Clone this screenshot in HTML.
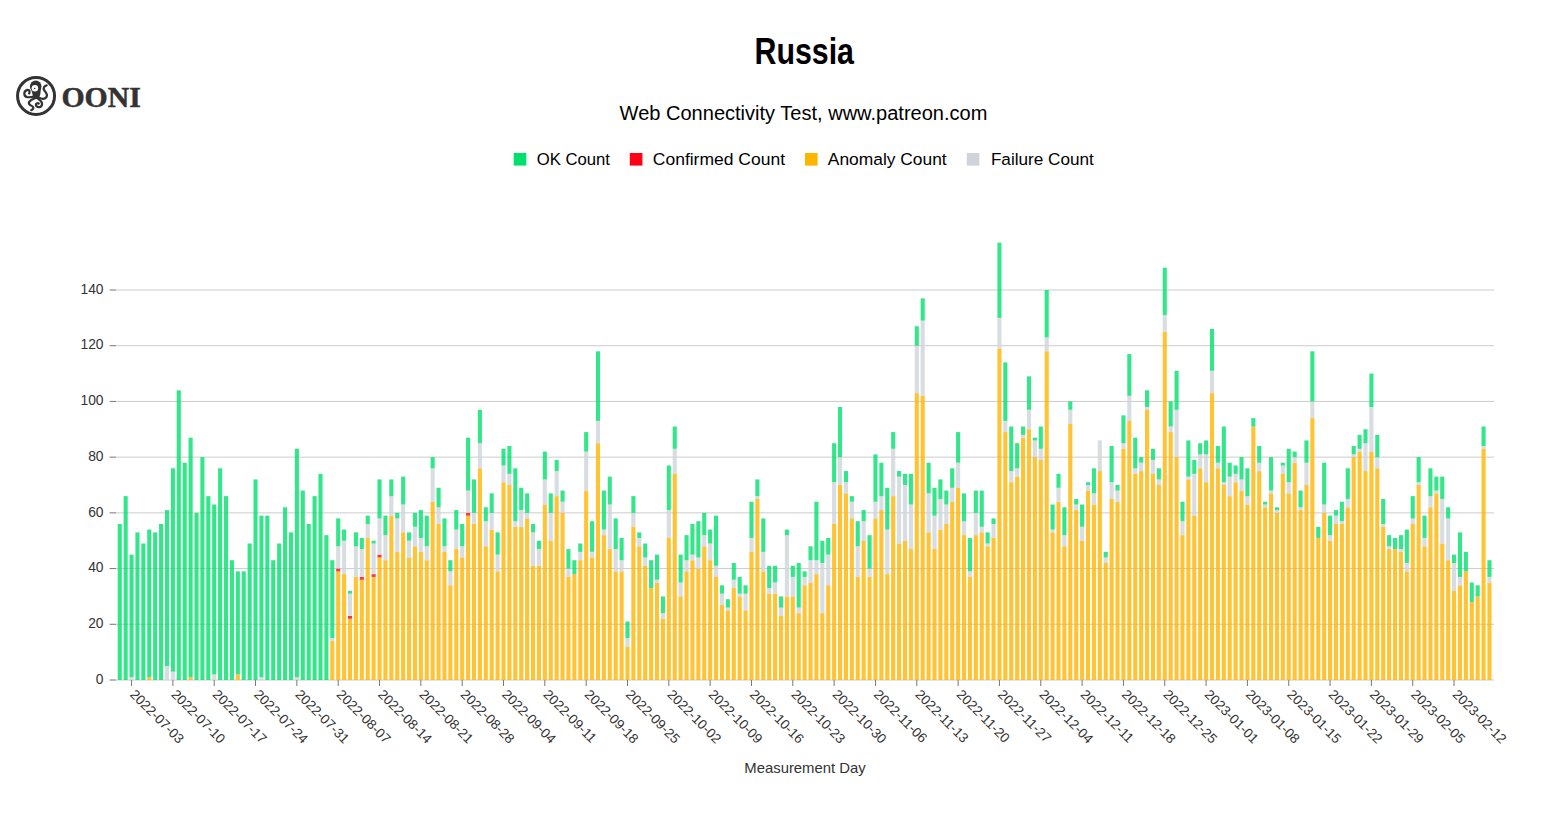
<!DOCTYPE html><html><head><meta charset="utf-8"><title>Russia - Web Connectivity Test</title>
<style>html,body{margin:0;padding:0;background:#fff;width:1543px;height:823px;overflow:hidden}svg{display:block}text{font-family:"Liberation Sans",sans-serif}</style></head><body>
<svg width="1543" height="823" viewBox="0 0 1543 823">
<g fill="#333">
<circle cx="36.05" cy="95.9" r="18.5" fill="none" stroke="#333" stroke-width="3.0"/>
<circle cx="35.7" cy="86.4" r="5.8"/>
<path d="M31.2 88 L40.6 88 L40.8 89.6 Q40.6 94.5 39.6 96.6 Q38.2 99.2 35.8 99.2 Q33.6 99 33 96.8 Q32.6 94.2 31.4 90 Z"/>
<circle cx="34.9" cy="88.3" r="3.25" fill="#fff"/>
<circle cx="34.7" cy="88.4" r="0.7"/>
<g fill="none" stroke="#333" stroke-width="2.2" stroke-linecap="round">
<path d="M33.8 96.6 Q29.5 97.6 27.2 97.1 Q24.4 96.4 24.3 93.6 Q24.4 90.6 27.2 89.9 Q29.6 89.9 29.6 92 Q29.5 93 29.1 93.5"/>
<path d="M39.2 97.8 Q42.3 99.4 45 98.4 Q47.4 96.8 46.9 94.6 Q46 92.4 44.4 90.6 Q43.1 88.4 44.2 86.8 Q45.2 85.6 46.7 85.3"/>
<path d="M34.4 98.6 Q30.4 100.2 29.1 102 Q28.3 104 30.5 105.3 Q33.2 106.2 33.4 107.8 Q33.2 109.4 31.2 110.2"/>
<path d="M37.6 98.4 Q40.8 100.4 41.9 102.8 Q42.6 105.8 40.3 107 Q38 107.6 36.4 106.2 Q35.4 104.4 36.8 103.4 Q38 102.9 38.8 103.6"/>
</g></g>
<text x="61.4" y="106.8" font-family="Liberation Serif" font-weight="bold" font-size="30" fill="#333" stroke="#333" stroke-width="0.5" textLength="79.5" lengthAdjust="spacingAndGlyphs" style="font-family:'Liberation Serif',serif">OONI</text>
<text x="754.5" y="63.9" font-weight="bold" font-size="37" fill="#000" textLength="99.5" lengthAdjust="spacingAndGlyphs">Russia</text>
<text x="619.6" y="119.8" font-size="19.5" fill="#000" textLength="367.8" lengthAdjust="spacingAndGlyphs">Web Connectivity Test, www.patreon.com</text>
<rect x="513.7" y="153" width="12.6" height="12.6" fill="#00e06c"/>
<text x="536.7" y="165.2" font-size="16.8" fill="#000" textLength="73.3" lengthAdjust="spacingAndGlyphs">OK Count</text>
<rect x="629.8" y="153" width="12.6" height="12.6" fill="#ff0016"/>
<text x="652.8" y="165.2" font-size="16.8" fill="#000" textLength="132.2" lengthAdjust="spacingAndGlyphs">Confirmed Count</text>
<rect x="805.0" y="153" width="12.6" height="12.6" fill="#ffb400"/>
<text x="827.8" y="165.2" font-size="16.8" fill="#000" textLength="118.9" lengthAdjust="spacingAndGlyphs">Anomaly Count</text>
<rect x="966.8" y="153" width="12.6" height="12.6" fill="#ced4da"/>
<text x="990.9" y="165.2" font-size="16.8" fill="#000" textLength="102.9" lengthAdjust="spacingAndGlyphs">Failure Count</text>
<g stroke="#cccccc" stroke-width="1">
<line x1="116.0" x2="1494.0" y1="680.00" y2="680.00"/>
<line x1="116.0" x2="1494.0" y1="624.29" y2="624.29"/>
<line x1="116.0" x2="1494.0" y1="568.57" y2="568.57"/>
<line x1="116.0" x2="1494.0" y1="512.86" y2="512.86"/>
<line x1="116.0" x2="1494.0" y1="457.14" y2="457.14"/>
<line x1="116.0" x2="1494.0" y1="401.43" y2="401.43"/>
<line x1="116.0" x2="1494.0" y1="345.72" y2="345.72"/>
<line x1="116.0" x2="1494.0" y1="290.00" y2="290.00"/>
</g>
<g fill-opacity="0.80">
<rect x="117.70" y="524.00" width="4.10" height="156.00" fill="#00e06c"/>
<rect x="123.60" y="496.14" width="4.10" height="183.86" fill="#00e06c"/>
<rect x="129.51" y="677.21" width="4.10" height="2.79" fill="#ced4da"/>
<rect x="129.51" y="554.64" width="4.10" height="122.57" fill="#00e06c"/>
<rect x="135.41" y="532.36" width="4.10" height="147.64" fill="#00e06c"/>
<rect x="141.32" y="543.50" width="4.10" height="136.50" fill="#00e06c"/>
<rect x="147.22" y="677.21" width="4.10" height="2.79" fill="#ffb400"/>
<rect x="147.22" y="529.57" width="4.10" height="147.64" fill="#00e06c"/>
<rect x="153.12" y="532.36" width="4.10" height="147.64" fill="#00e06c"/>
<rect x="159.03" y="524.00" width="4.10" height="156.00" fill="#00e06c"/>
<rect x="164.93" y="666.07" width="4.10" height="13.93" fill="#ced4da"/>
<rect x="164.93" y="510.07" width="4.10" height="156.00" fill="#00e06c"/>
<rect x="170.84" y="671.64" width="4.10" height="8.36" fill="#ced4da"/>
<rect x="170.84" y="468.29" width="4.10" height="203.36" fill="#00e06c"/>
<rect x="176.74" y="390.29" width="4.10" height="289.71" fill="#00e06c"/>
<rect x="182.64" y="462.72" width="4.10" height="217.28" fill="#00e06c"/>
<rect x="188.55" y="677.21" width="4.10" height="2.79" fill="#ffb400"/>
<rect x="188.55" y="437.64" width="4.10" height="239.57" fill="#00e06c"/>
<rect x="194.45" y="512.86" width="4.10" height="167.14" fill="#00e06c"/>
<rect x="200.36" y="457.14" width="4.10" height="222.86" fill="#00e06c"/>
<rect x="206.26" y="496.14" width="4.10" height="183.86" fill="#00e06c"/>
<rect x="212.16" y="674.43" width="4.10" height="5.57" fill="#ced4da"/>
<rect x="212.16" y="504.50" width="4.10" height="169.93" fill="#00e06c"/>
<rect x="218.07" y="468.29" width="4.10" height="211.71" fill="#00e06c"/>
<rect x="223.97" y="496.14" width="4.10" height="183.86" fill="#00e06c"/>
<rect x="229.88" y="560.21" width="4.10" height="119.79" fill="#00e06c"/>
<rect x="235.78" y="674.43" width="4.10" height="5.57" fill="#ffb400"/>
<rect x="235.78" y="571.36" width="4.10" height="103.07" fill="#00e06c"/>
<rect x="241.68" y="571.36" width="4.10" height="108.64" fill="#00e06c"/>
<rect x="247.59" y="543.50" width="4.10" height="136.50" fill="#00e06c"/>
<rect x="253.49" y="479.43" width="4.10" height="200.57" fill="#00e06c"/>
<rect x="259.40" y="677.21" width="4.10" height="2.79" fill="#ced4da"/>
<rect x="259.40" y="515.64" width="4.10" height="161.57" fill="#00e06c"/>
<rect x="265.30" y="515.64" width="4.10" height="164.36" fill="#00e06c"/>
<rect x="271.20" y="560.21" width="4.10" height="119.79" fill="#00e06c"/>
<rect x="277.11" y="543.50" width="4.10" height="136.50" fill="#00e06c"/>
<rect x="283.01" y="507.29" width="4.10" height="172.71" fill="#00e06c"/>
<rect x="288.92" y="532.36" width="4.10" height="147.64" fill="#00e06c"/>
<rect x="294.82" y="677.21" width="4.10" height="2.79" fill="#ced4da"/>
<rect x="294.82" y="448.79" width="4.10" height="228.43" fill="#00e06c"/>
<rect x="300.72" y="490.57" width="4.10" height="189.43" fill="#00e06c"/>
<rect x="306.63" y="524.00" width="4.10" height="156.00" fill="#00e06c"/>
<rect x="312.53" y="496.14" width="4.10" height="183.86" fill="#00e06c"/>
<rect x="318.44" y="473.86" width="4.10" height="206.14" fill="#00e06c"/>
<rect x="324.34" y="535.14" width="4.10" height="144.86" fill="#00e06c"/>
<rect x="330.24" y="641.00" width="4.10" height="39.00" fill="#ffb400"/>
<rect x="330.24" y="638.21" width="4.10" height="2.79" fill="#ced4da"/>
<rect x="330.24" y="560.21" width="4.10" height="78.00" fill="#00e06c"/>
<rect x="336.15" y="571.36" width="4.10" height="108.64" fill="#ffb400"/>
<rect x="336.15" y="568.57" width="4.10" height="2.79" fill="#ff0016"/>
<rect x="336.15" y="546.29" width="4.10" height="22.29" fill="#ced4da"/>
<rect x="336.15" y="518.43" width="4.10" height="27.86" fill="#00e06c"/>
<rect x="342.05" y="574.14" width="4.10" height="105.86" fill="#ffb400"/>
<rect x="342.05" y="540.72" width="4.10" height="33.43" fill="#ced4da"/>
<rect x="342.05" y="529.57" width="4.10" height="11.14" fill="#00e06c"/>
<rect x="347.96" y="618.71" width="4.10" height="61.29" fill="#ffb400"/>
<rect x="347.96" y="615.93" width="4.10" height="2.79" fill="#ff0016"/>
<rect x="347.96" y="593.64" width="4.10" height="22.29" fill="#ced4da"/>
<rect x="347.96" y="590.86" width="4.10" height="2.79" fill="#00e06c"/>
<rect x="353.86" y="576.93" width="4.10" height="103.07" fill="#ffb400"/>
<rect x="353.86" y="546.29" width="4.10" height="30.64" fill="#ced4da"/>
<rect x="353.86" y="532.36" width="4.10" height="13.93" fill="#00e06c"/>
<rect x="359.76" y="579.71" width="4.10" height="100.29" fill="#ffb400"/>
<rect x="359.76" y="576.93" width="4.10" height="2.79" fill="#ff0016"/>
<rect x="359.76" y="549.07" width="4.10" height="27.86" fill="#ced4da"/>
<rect x="359.76" y="537.93" width="4.10" height="11.14" fill="#00e06c"/>
<rect x="365.67" y="537.93" width="4.10" height="142.07" fill="#ffb400"/>
<rect x="365.67" y="524.00" width="4.10" height="13.93" fill="#ced4da"/>
<rect x="365.67" y="515.64" width="4.10" height="8.36" fill="#00e06c"/>
<rect x="371.57" y="576.93" width="4.10" height="103.07" fill="#ffb400"/>
<rect x="371.57" y="574.14" width="4.10" height="2.79" fill="#ff0016"/>
<rect x="371.57" y="543.50" width="4.10" height="30.64" fill="#ced4da"/>
<rect x="371.57" y="540.72" width="4.10" height="2.79" fill="#00e06c"/>
<rect x="377.48" y="557.43" width="4.10" height="122.57" fill="#ffb400"/>
<rect x="377.48" y="554.64" width="4.10" height="2.79" fill="#ff0016"/>
<rect x="377.48" y="518.43" width="4.10" height="36.21" fill="#ced4da"/>
<rect x="377.48" y="479.43" width="4.10" height="39.00" fill="#00e06c"/>
<rect x="383.38" y="560.21" width="4.10" height="119.79" fill="#ffb400"/>
<rect x="383.38" y="535.14" width="4.10" height="25.07" fill="#ced4da"/>
<rect x="383.38" y="515.64" width="4.10" height="19.50" fill="#00e06c"/>
<rect x="389.28" y="515.64" width="4.10" height="164.36" fill="#ffb400"/>
<rect x="389.28" y="496.14" width="4.10" height="19.50" fill="#ced4da"/>
<rect x="389.28" y="479.43" width="4.10" height="16.71" fill="#00e06c"/>
<rect x="395.19" y="551.86" width="4.10" height="128.14" fill="#ffb400"/>
<rect x="395.19" y="518.43" width="4.10" height="33.43" fill="#ced4da"/>
<rect x="395.19" y="512.86" width="4.10" height="5.57" fill="#00e06c"/>
<rect x="401.09" y="532.36" width="4.10" height="147.64" fill="#ffb400"/>
<rect x="401.09" y="504.50" width="4.10" height="27.86" fill="#ced4da"/>
<rect x="401.09" y="476.64" width="4.10" height="27.86" fill="#00e06c"/>
<rect x="407.00" y="557.43" width="4.10" height="122.57" fill="#ffb400"/>
<rect x="407.00" y="540.72" width="4.10" height="16.71" fill="#ced4da"/>
<rect x="407.00" y="532.36" width="4.10" height="8.36" fill="#00e06c"/>
<rect x="412.90" y="546.29" width="4.10" height="133.71" fill="#ffb400"/>
<rect x="412.90" y="526.79" width="4.10" height="19.50" fill="#ced4da"/>
<rect x="412.90" y="512.86" width="4.10" height="13.93" fill="#00e06c"/>
<rect x="418.80" y="551.86" width="4.10" height="128.14" fill="#ffb400"/>
<rect x="418.80" y="537.93" width="4.10" height="13.93" fill="#ced4da"/>
<rect x="418.80" y="510.07" width="4.10" height="27.86" fill="#00e06c"/>
<rect x="424.71" y="560.21" width="4.10" height="119.79" fill="#ffb400"/>
<rect x="424.71" y="546.29" width="4.10" height="13.93" fill="#ced4da"/>
<rect x="424.71" y="515.64" width="4.10" height="30.64" fill="#00e06c"/>
<rect x="430.61" y="501.72" width="4.10" height="178.28" fill="#ffb400"/>
<rect x="430.61" y="468.29" width="4.10" height="33.43" fill="#ced4da"/>
<rect x="430.61" y="457.14" width="4.10" height="11.14" fill="#00e06c"/>
<rect x="436.52" y="524.00" width="4.10" height="156.00" fill="#ffb400"/>
<rect x="436.52" y="507.29" width="4.10" height="16.71" fill="#ced4da"/>
<rect x="436.52" y="487.79" width="4.10" height="19.50" fill="#00e06c"/>
<rect x="442.42" y="551.86" width="4.10" height="128.14" fill="#ffb400"/>
<rect x="442.42" y="546.29" width="4.10" height="5.57" fill="#ced4da"/>
<rect x="442.42" y="518.43" width="4.10" height="27.86" fill="#00e06c"/>
<rect x="448.32" y="585.29" width="4.10" height="94.71" fill="#ffb400"/>
<rect x="448.32" y="571.36" width="4.10" height="13.93" fill="#ced4da"/>
<rect x="448.32" y="560.21" width="4.10" height="11.14" fill="#00e06c"/>
<rect x="454.23" y="549.07" width="4.10" height="130.93" fill="#ffb400"/>
<rect x="454.23" y="529.57" width="4.10" height="19.50" fill="#ced4da"/>
<rect x="454.23" y="510.07" width="4.10" height="19.50" fill="#00e06c"/>
<rect x="460.13" y="557.43" width="4.10" height="122.57" fill="#ffb400"/>
<rect x="460.13" y="546.29" width="4.10" height="11.14" fill="#ced4da"/>
<rect x="460.13" y="524.00" width="4.10" height="22.29" fill="#00e06c"/>
<rect x="466.04" y="515.64" width="4.10" height="164.36" fill="#ffb400"/>
<rect x="466.04" y="512.86" width="4.10" height="2.79" fill="#ff0016"/>
<rect x="466.04" y="490.57" width="4.10" height="22.29" fill="#ced4da"/>
<rect x="466.04" y="437.64" width="4.10" height="52.93" fill="#00e06c"/>
<rect x="471.94" y="524.00" width="4.10" height="156.00" fill="#ffb400"/>
<rect x="471.94" y="512.86" width="4.10" height="11.14" fill="#ced4da"/>
<rect x="471.94" y="479.43" width="4.10" height="33.43" fill="#00e06c"/>
<rect x="477.84" y="468.29" width="4.10" height="211.71" fill="#ffb400"/>
<rect x="477.84" y="443.22" width="4.10" height="25.07" fill="#ced4da"/>
<rect x="477.84" y="409.79" width="4.10" height="33.43" fill="#00e06c"/>
<rect x="483.75" y="546.29" width="4.10" height="133.71" fill="#ffb400"/>
<rect x="483.75" y="521.22" width="4.10" height="25.07" fill="#ced4da"/>
<rect x="483.75" y="507.29" width="4.10" height="13.93" fill="#00e06c"/>
<rect x="489.65" y="529.57" width="4.10" height="150.43" fill="#ffb400"/>
<rect x="489.65" y="512.86" width="4.10" height="16.71" fill="#ced4da"/>
<rect x="489.65" y="493.36" width="4.10" height="19.50" fill="#00e06c"/>
<rect x="495.56" y="571.36" width="4.10" height="108.64" fill="#ffb400"/>
<rect x="495.56" y="554.64" width="4.10" height="16.71" fill="#ced4da"/>
<rect x="495.56" y="532.36" width="4.10" height="22.29" fill="#00e06c"/>
<rect x="501.46" y="482.22" width="4.10" height="197.78" fill="#ffb400"/>
<rect x="501.46" y="465.50" width="4.10" height="16.71" fill="#ced4da"/>
<rect x="501.46" y="448.79" width="4.10" height="16.71" fill="#00e06c"/>
<rect x="507.36" y="485.00" width="4.10" height="195.00" fill="#ffb400"/>
<rect x="507.36" y="473.86" width="4.10" height="11.14" fill="#ced4da"/>
<rect x="507.36" y="446.00" width="4.10" height="27.86" fill="#00e06c"/>
<rect x="513.27" y="526.79" width="4.10" height="153.21" fill="#ffb400"/>
<rect x="513.27" y="521.22" width="4.10" height="5.57" fill="#ced4da"/>
<rect x="513.27" y="468.29" width="4.10" height="52.93" fill="#00e06c"/>
<rect x="519.17" y="526.79" width="4.10" height="153.21" fill="#ffb400"/>
<rect x="519.17" y="510.07" width="4.10" height="16.71" fill="#ced4da"/>
<rect x="519.17" y="487.79" width="4.10" height="22.29" fill="#00e06c"/>
<rect x="525.08" y="518.43" width="4.10" height="161.57" fill="#ffb400"/>
<rect x="525.08" y="512.86" width="4.10" height="5.57" fill="#ced4da"/>
<rect x="525.08" y="493.36" width="4.10" height="19.50" fill="#00e06c"/>
<rect x="530.98" y="565.79" width="4.10" height="114.21" fill="#ffb400"/>
<rect x="530.98" y="532.36" width="4.10" height="33.43" fill="#ced4da"/>
<rect x="530.98" y="524.00" width="4.10" height="8.36" fill="#00e06c"/>
<rect x="536.88" y="565.79" width="4.10" height="114.21" fill="#ffb400"/>
<rect x="536.88" y="549.07" width="4.10" height="16.71" fill="#ced4da"/>
<rect x="536.88" y="540.72" width="4.10" height="8.36" fill="#00e06c"/>
<rect x="542.79" y="504.50" width="4.10" height="175.50" fill="#ffb400"/>
<rect x="542.79" y="479.43" width="4.10" height="25.07" fill="#ced4da"/>
<rect x="542.79" y="451.57" width="4.10" height="27.86" fill="#00e06c"/>
<rect x="548.69" y="540.72" width="4.10" height="139.28" fill="#ffb400"/>
<rect x="548.69" y="512.86" width="4.10" height="27.86" fill="#ced4da"/>
<rect x="548.69" y="493.36" width="4.10" height="19.50" fill="#00e06c"/>
<rect x="554.60" y="496.14" width="4.10" height="183.86" fill="#ffb400"/>
<rect x="554.60" y="471.07" width="4.10" height="25.07" fill="#ced4da"/>
<rect x="554.60" y="459.93" width="4.10" height="11.14" fill="#00e06c"/>
<rect x="560.50" y="512.86" width="4.10" height="167.14" fill="#ffb400"/>
<rect x="560.50" y="501.72" width="4.10" height="11.14" fill="#ced4da"/>
<rect x="560.50" y="490.57" width="4.10" height="11.14" fill="#00e06c"/>
<rect x="566.40" y="576.93" width="4.10" height="103.07" fill="#ffb400"/>
<rect x="566.40" y="568.57" width="4.10" height="8.36" fill="#ced4da"/>
<rect x="566.40" y="549.07" width="4.10" height="19.50" fill="#00e06c"/>
<rect x="572.31" y="574.14" width="4.10" height="105.86" fill="#ffb400"/>
<rect x="572.31" y="560.21" width="4.10" height="13.93" fill="#00e06c"/>
<rect x="578.21" y="560.21" width="4.10" height="119.79" fill="#ffb400"/>
<rect x="578.21" y="551.86" width="4.10" height="8.36" fill="#ced4da"/>
<rect x="578.21" y="543.50" width="4.10" height="8.36" fill="#00e06c"/>
<rect x="584.12" y="490.57" width="4.10" height="189.43" fill="#ffb400"/>
<rect x="584.12" y="451.57" width="4.10" height="39.00" fill="#ced4da"/>
<rect x="584.12" y="432.07" width="4.10" height="19.50" fill="#00e06c"/>
<rect x="590.02" y="557.43" width="4.10" height="122.57" fill="#ffb400"/>
<rect x="590.02" y="551.86" width="4.10" height="5.57" fill="#ced4da"/>
<rect x="590.02" y="521.22" width="4.10" height="30.64" fill="#00e06c"/>
<rect x="595.92" y="443.22" width="4.10" height="236.78" fill="#ffb400"/>
<rect x="595.92" y="420.93" width="4.10" height="22.29" fill="#ced4da"/>
<rect x="595.92" y="351.29" width="4.10" height="69.64" fill="#00e06c"/>
<rect x="601.83" y="535.14" width="4.10" height="144.86" fill="#ffb400"/>
<rect x="601.83" y="529.57" width="4.10" height="5.57" fill="#ced4da"/>
<rect x="601.83" y="490.57" width="4.10" height="39.00" fill="#00e06c"/>
<rect x="607.73" y="549.07" width="4.10" height="130.93" fill="#ffb400"/>
<rect x="607.73" y="504.50" width="4.10" height="44.57" fill="#ced4da"/>
<rect x="607.73" y="476.64" width="4.10" height="27.86" fill="#00e06c"/>
<rect x="613.64" y="571.36" width="4.10" height="108.64" fill="#ffb400"/>
<rect x="613.64" y="549.07" width="4.10" height="22.29" fill="#ced4da"/>
<rect x="613.64" y="518.43" width="4.10" height="30.64" fill="#00e06c"/>
<rect x="619.54" y="571.36" width="4.10" height="108.64" fill="#ffb400"/>
<rect x="619.54" y="560.21" width="4.10" height="11.14" fill="#ced4da"/>
<rect x="619.54" y="537.93" width="4.10" height="22.29" fill="#00e06c"/>
<rect x="625.44" y="646.57" width="4.10" height="33.43" fill="#ffb400"/>
<rect x="625.44" y="638.21" width="4.10" height="8.36" fill="#ced4da"/>
<rect x="625.44" y="621.50" width="4.10" height="16.71" fill="#00e06c"/>
<rect x="631.35" y="526.79" width="4.10" height="153.21" fill="#ffb400"/>
<rect x="631.35" y="512.86" width="4.10" height="13.93" fill="#ced4da"/>
<rect x="631.35" y="496.14" width="4.10" height="16.71" fill="#00e06c"/>
<rect x="637.25" y="546.29" width="4.10" height="133.71" fill="#ffb400"/>
<rect x="637.25" y="537.93" width="4.10" height="8.36" fill="#ced4da"/>
<rect x="637.25" y="532.36" width="4.10" height="5.57" fill="#00e06c"/>
<rect x="643.16" y="565.79" width="4.10" height="114.21" fill="#ffb400"/>
<rect x="643.16" y="557.43" width="4.10" height="8.36" fill="#ced4da"/>
<rect x="643.16" y="543.50" width="4.10" height="13.93" fill="#00e06c"/>
<rect x="649.06" y="588.07" width="4.10" height="91.93" fill="#ffb400"/>
<rect x="649.06" y="560.21" width="4.10" height="27.86" fill="#00e06c"/>
<rect x="654.96" y="582.50" width="4.10" height="97.50" fill="#ffb400"/>
<rect x="654.96" y="579.71" width="4.10" height="2.79" fill="#ced4da"/>
<rect x="654.96" y="554.64" width="4.10" height="25.07" fill="#00e06c"/>
<rect x="660.87" y="618.71" width="4.10" height="61.29" fill="#ffb400"/>
<rect x="660.87" y="613.14" width="4.10" height="5.57" fill="#ced4da"/>
<rect x="660.87" y="596.43" width="4.10" height="16.71" fill="#00e06c"/>
<rect x="666.77" y="537.93" width="4.10" height="142.07" fill="#ffb400"/>
<rect x="666.77" y="510.07" width="4.10" height="27.86" fill="#ced4da"/>
<rect x="666.77" y="465.50" width="4.10" height="44.57" fill="#00e06c"/>
<rect x="672.68" y="473.86" width="4.10" height="206.14" fill="#ffb400"/>
<rect x="672.68" y="448.79" width="4.10" height="25.07" fill="#ced4da"/>
<rect x="672.68" y="426.50" width="4.10" height="22.29" fill="#00e06c"/>
<rect x="678.58" y="596.43" width="4.10" height="83.57" fill="#ffb400"/>
<rect x="678.58" y="582.50" width="4.10" height="13.93" fill="#ced4da"/>
<rect x="678.58" y="554.64" width="4.10" height="27.86" fill="#00e06c"/>
<rect x="684.48" y="571.36" width="4.10" height="108.64" fill="#ffb400"/>
<rect x="684.48" y="560.21" width="4.10" height="11.14" fill="#ced4da"/>
<rect x="684.48" y="535.14" width="4.10" height="25.07" fill="#00e06c"/>
<rect x="690.39" y="560.21" width="4.10" height="119.79" fill="#ffb400"/>
<rect x="690.39" y="554.64" width="4.10" height="5.57" fill="#ced4da"/>
<rect x="690.39" y="524.00" width="4.10" height="30.64" fill="#00e06c"/>
<rect x="696.29" y="568.57" width="4.10" height="111.43" fill="#ffb400"/>
<rect x="696.29" y="557.43" width="4.10" height="11.14" fill="#ced4da"/>
<rect x="696.29" y="521.22" width="4.10" height="36.21" fill="#00e06c"/>
<rect x="702.20" y="546.29" width="4.10" height="133.71" fill="#ffb400"/>
<rect x="702.20" y="535.14" width="4.10" height="11.14" fill="#ced4da"/>
<rect x="702.20" y="512.86" width="4.10" height="22.29" fill="#00e06c"/>
<rect x="708.10" y="560.21" width="4.10" height="119.79" fill="#ffb400"/>
<rect x="708.10" y="543.50" width="4.10" height="16.71" fill="#ced4da"/>
<rect x="708.10" y="529.57" width="4.10" height="13.93" fill="#00e06c"/>
<rect x="714.00" y="576.93" width="4.10" height="103.07" fill="#ffb400"/>
<rect x="714.00" y="565.79" width="4.10" height="11.14" fill="#ced4da"/>
<rect x="714.00" y="515.64" width="4.10" height="50.14" fill="#00e06c"/>
<rect x="719.91" y="604.79" width="4.10" height="75.21" fill="#ffb400"/>
<rect x="719.91" y="593.64" width="4.10" height="11.14" fill="#ced4da"/>
<rect x="719.91" y="585.29" width="4.10" height="8.36" fill="#00e06c"/>
<rect x="725.81" y="610.36" width="4.10" height="69.64" fill="#ffb400"/>
<rect x="725.81" y="607.57" width="4.10" height="2.79" fill="#ced4da"/>
<rect x="725.81" y="599.21" width="4.10" height="8.36" fill="#00e06c"/>
<rect x="731.72" y="588.07" width="4.10" height="91.93" fill="#ffb400"/>
<rect x="731.72" y="579.71" width="4.10" height="8.36" fill="#ced4da"/>
<rect x="731.72" y="563.00" width="4.10" height="16.71" fill="#00e06c"/>
<rect x="737.62" y="596.43" width="4.10" height="83.57" fill="#ffb400"/>
<rect x="737.62" y="593.64" width="4.10" height="2.79" fill="#ced4da"/>
<rect x="737.62" y="576.93" width="4.10" height="16.71" fill="#00e06c"/>
<rect x="743.52" y="610.36" width="4.10" height="69.64" fill="#ffb400"/>
<rect x="743.52" y="593.64" width="4.10" height="16.71" fill="#ced4da"/>
<rect x="743.52" y="585.29" width="4.10" height="8.36" fill="#00e06c"/>
<rect x="749.43" y="551.86" width="4.10" height="128.14" fill="#ffb400"/>
<rect x="749.43" y="537.93" width="4.10" height="13.93" fill="#ced4da"/>
<rect x="749.43" y="501.72" width="4.10" height="36.21" fill="#00e06c"/>
<rect x="755.33" y="498.93" width="4.10" height="181.07" fill="#ffb400"/>
<rect x="755.33" y="496.14" width="4.10" height="2.79" fill="#ced4da"/>
<rect x="755.33" y="479.43" width="4.10" height="16.71" fill="#00e06c"/>
<rect x="761.24" y="571.36" width="4.10" height="108.64" fill="#ffb400"/>
<rect x="761.24" y="551.86" width="4.10" height="19.50" fill="#ced4da"/>
<rect x="761.24" y="518.43" width="4.10" height="33.43" fill="#00e06c"/>
<rect x="767.14" y="593.64" width="4.10" height="86.36" fill="#ffb400"/>
<rect x="767.14" y="588.07" width="4.10" height="5.57" fill="#ced4da"/>
<rect x="767.14" y="565.79" width="4.10" height="22.29" fill="#00e06c"/>
<rect x="773.04" y="593.64" width="4.10" height="86.36" fill="#ffb400"/>
<rect x="773.04" y="582.50" width="4.10" height="11.14" fill="#ced4da"/>
<rect x="773.04" y="565.79" width="4.10" height="16.71" fill="#00e06c"/>
<rect x="778.95" y="615.93" width="4.10" height="64.07" fill="#ffb400"/>
<rect x="778.95" y="607.57" width="4.10" height="8.36" fill="#ced4da"/>
<rect x="778.95" y="596.43" width="4.10" height="11.14" fill="#00e06c"/>
<rect x="784.85" y="596.43" width="4.10" height="83.57" fill="#ffb400"/>
<rect x="784.85" y="535.14" width="4.10" height="61.29" fill="#ced4da"/>
<rect x="784.85" y="529.57" width="4.10" height="5.57" fill="#00e06c"/>
<rect x="790.76" y="596.43" width="4.10" height="83.57" fill="#ffb400"/>
<rect x="790.76" y="576.93" width="4.10" height="19.50" fill="#ced4da"/>
<rect x="790.76" y="565.79" width="4.10" height="11.14" fill="#00e06c"/>
<rect x="796.66" y="613.14" width="4.10" height="66.86" fill="#ffb400"/>
<rect x="796.66" y="607.57" width="4.10" height="5.57" fill="#ced4da"/>
<rect x="796.66" y="563.00" width="4.10" height="44.57" fill="#00e06c"/>
<rect x="802.56" y="585.29" width="4.10" height="94.71" fill="#ffb400"/>
<rect x="802.56" y="576.93" width="4.10" height="8.36" fill="#ced4da"/>
<rect x="802.56" y="571.36" width="4.10" height="5.57" fill="#00e06c"/>
<rect x="808.47" y="582.50" width="4.10" height="97.50" fill="#ffb400"/>
<rect x="808.47" y="560.21" width="4.10" height="22.29" fill="#ced4da"/>
<rect x="808.47" y="546.29" width="4.10" height="13.93" fill="#00e06c"/>
<rect x="814.37" y="574.14" width="4.10" height="105.86" fill="#ffb400"/>
<rect x="814.37" y="560.21" width="4.10" height="13.93" fill="#ced4da"/>
<rect x="814.37" y="501.72" width="4.10" height="58.50" fill="#00e06c"/>
<rect x="820.28" y="613.14" width="4.10" height="66.86" fill="#ffb400"/>
<rect x="820.28" y="563.00" width="4.10" height="50.14" fill="#ced4da"/>
<rect x="820.28" y="540.72" width="4.10" height="22.29" fill="#00e06c"/>
<rect x="826.18" y="585.29" width="4.10" height="94.71" fill="#ffb400"/>
<rect x="826.18" y="554.64" width="4.10" height="30.64" fill="#ced4da"/>
<rect x="826.18" y="537.93" width="4.10" height="16.71" fill="#00e06c"/>
<rect x="832.08" y="524.00" width="4.10" height="156.00" fill="#ffb400"/>
<rect x="832.08" y="482.22" width="4.10" height="41.79" fill="#ced4da"/>
<rect x="832.08" y="443.22" width="4.10" height="39.00" fill="#00e06c"/>
<rect x="837.99" y="485.00" width="4.10" height="195.00" fill="#ffb400"/>
<rect x="837.99" y="457.14" width="4.10" height="27.86" fill="#ced4da"/>
<rect x="837.99" y="407.00" width="4.10" height="50.14" fill="#00e06c"/>
<rect x="843.89" y="493.36" width="4.10" height="186.64" fill="#ffb400"/>
<rect x="843.89" y="482.22" width="4.10" height="11.14" fill="#ced4da"/>
<rect x="843.89" y="471.07" width="4.10" height="11.14" fill="#00e06c"/>
<rect x="849.80" y="518.43" width="4.10" height="161.57" fill="#ffb400"/>
<rect x="849.80" y="501.72" width="4.10" height="16.71" fill="#ced4da"/>
<rect x="849.80" y="496.14" width="4.10" height="5.57" fill="#00e06c"/>
<rect x="855.70" y="576.93" width="4.10" height="103.07" fill="#ffb400"/>
<rect x="855.70" y="546.29" width="4.10" height="30.64" fill="#ced4da"/>
<rect x="855.70" y="521.22" width="4.10" height="25.07" fill="#00e06c"/>
<rect x="861.60" y="540.72" width="4.10" height="139.28" fill="#ffb400"/>
<rect x="861.60" y="521.22" width="4.10" height="19.50" fill="#ced4da"/>
<rect x="861.60" y="510.07" width="4.10" height="11.14" fill="#00e06c"/>
<rect x="867.51" y="576.93" width="4.10" height="103.07" fill="#ffb400"/>
<rect x="867.51" y="568.57" width="4.10" height="8.36" fill="#ced4da"/>
<rect x="867.51" y="535.14" width="4.10" height="33.43" fill="#00e06c"/>
<rect x="873.41" y="518.43" width="4.10" height="161.57" fill="#ffb400"/>
<rect x="873.41" y="501.72" width="4.10" height="16.71" fill="#ced4da"/>
<rect x="873.41" y="454.36" width="4.10" height="47.36" fill="#00e06c"/>
<rect x="879.32" y="510.07" width="4.10" height="169.93" fill="#ffb400"/>
<rect x="879.32" y="496.14" width="4.10" height="13.93" fill="#ced4da"/>
<rect x="879.32" y="462.72" width="4.10" height="33.43" fill="#00e06c"/>
<rect x="885.22" y="574.14" width="4.10" height="105.86" fill="#ffb400"/>
<rect x="885.22" y="529.57" width="4.10" height="44.57" fill="#ced4da"/>
<rect x="885.22" y="487.79" width="4.10" height="41.79" fill="#00e06c"/>
<rect x="891.12" y="496.14" width="4.10" height="183.86" fill="#ffb400"/>
<rect x="891.12" y="448.79" width="4.10" height="47.36" fill="#ced4da"/>
<rect x="891.12" y="432.07" width="4.10" height="16.71" fill="#00e06c"/>
<rect x="897.03" y="543.50" width="4.10" height="136.50" fill="#ffb400"/>
<rect x="897.03" y="476.64" width="4.10" height="66.86" fill="#ced4da"/>
<rect x="897.03" y="471.07" width="4.10" height="5.57" fill="#00e06c"/>
<rect x="902.93" y="540.72" width="4.10" height="139.28" fill="#ffb400"/>
<rect x="902.93" y="485.00" width="4.10" height="55.71" fill="#ced4da"/>
<rect x="902.93" y="473.86" width="4.10" height="11.14" fill="#00e06c"/>
<rect x="908.84" y="549.07" width="4.10" height="130.93" fill="#ffb400"/>
<rect x="908.84" y="504.50" width="4.10" height="44.57" fill="#ced4da"/>
<rect x="908.84" y="473.86" width="4.10" height="30.64" fill="#00e06c"/>
<rect x="914.74" y="393.07" width="4.10" height="286.93" fill="#ffb400"/>
<rect x="914.74" y="345.72" width="4.10" height="47.36" fill="#ced4da"/>
<rect x="914.74" y="326.22" width="4.10" height="19.50" fill="#00e06c"/>
<rect x="920.64" y="395.86" width="4.10" height="284.14" fill="#ffb400"/>
<rect x="920.64" y="320.64" width="4.10" height="75.21" fill="#ced4da"/>
<rect x="920.64" y="298.36" width="4.10" height="22.29" fill="#00e06c"/>
<rect x="926.55" y="532.36" width="4.10" height="147.64" fill="#ffb400"/>
<rect x="926.55" y="493.36" width="4.10" height="39.00" fill="#ced4da"/>
<rect x="926.55" y="462.72" width="4.10" height="30.64" fill="#00e06c"/>
<rect x="932.45" y="549.07" width="4.10" height="130.93" fill="#ffb400"/>
<rect x="932.45" y="515.64" width="4.10" height="33.43" fill="#ced4da"/>
<rect x="932.45" y="487.79" width="4.10" height="27.86" fill="#00e06c"/>
<rect x="938.36" y="529.57" width="4.10" height="150.43" fill="#ffb400"/>
<rect x="938.36" y="498.93" width="4.10" height="30.64" fill="#ced4da"/>
<rect x="938.36" y="479.43" width="4.10" height="19.50" fill="#00e06c"/>
<rect x="944.26" y="524.00" width="4.10" height="156.00" fill="#ffb400"/>
<rect x="944.26" y="504.50" width="4.10" height="19.50" fill="#ced4da"/>
<rect x="944.26" y="490.57" width="4.10" height="13.93" fill="#00e06c"/>
<rect x="950.16" y="501.72" width="4.10" height="178.28" fill="#ffb400"/>
<rect x="950.16" y="487.79" width="4.10" height="13.93" fill="#ced4da"/>
<rect x="950.16" y="468.29" width="4.10" height="19.50" fill="#00e06c"/>
<rect x="956.07" y="487.79" width="4.10" height="192.21" fill="#ffb400"/>
<rect x="956.07" y="462.72" width="4.10" height="25.07" fill="#ced4da"/>
<rect x="956.07" y="432.07" width="4.10" height="30.64" fill="#00e06c"/>
<rect x="961.97" y="535.14" width="4.10" height="144.86" fill="#ffb400"/>
<rect x="961.97" y="521.22" width="4.10" height="13.93" fill="#ced4da"/>
<rect x="961.97" y="493.36" width="4.10" height="27.86" fill="#00e06c"/>
<rect x="967.88" y="576.93" width="4.10" height="103.07" fill="#ffb400"/>
<rect x="967.88" y="571.36" width="4.10" height="5.57" fill="#ced4da"/>
<rect x="967.88" y="537.93" width="4.10" height="33.43" fill="#00e06c"/>
<rect x="973.78" y="535.14" width="4.10" height="144.86" fill="#ffb400"/>
<rect x="973.78" y="512.86" width="4.10" height="22.29" fill="#ced4da"/>
<rect x="973.78" y="490.57" width="4.10" height="22.29" fill="#00e06c"/>
<rect x="979.68" y="532.36" width="4.10" height="147.64" fill="#ffb400"/>
<rect x="979.68" y="526.79" width="4.10" height="5.57" fill="#ced4da"/>
<rect x="979.68" y="490.57" width="4.10" height="36.21" fill="#00e06c"/>
<rect x="985.59" y="546.29" width="4.10" height="133.71" fill="#ffb400"/>
<rect x="985.59" y="543.50" width="4.10" height="2.79" fill="#ced4da"/>
<rect x="985.59" y="532.36" width="4.10" height="11.14" fill="#00e06c"/>
<rect x="991.49" y="537.93" width="4.10" height="142.07" fill="#ffb400"/>
<rect x="991.49" y="524.00" width="4.10" height="13.93" fill="#ced4da"/>
<rect x="991.49" y="518.43" width="4.10" height="5.57" fill="#00e06c"/>
<rect x="997.40" y="348.50" width="4.10" height="331.50" fill="#ffb400"/>
<rect x="997.40" y="317.86" width="4.10" height="30.64" fill="#ced4da"/>
<rect x="997.40" y="242.65" width="4.10" height="75.21" fill="#00e06c"/>
<rect x="1003.30" y="432.07" width="4.10" height="247.93" fill="#ffb400"/>
<rect x="1003.30" y="420.93" width="4.10" height="11.14" fill="#ced4da"/>
<rect x="1003.30" y="362.43" width="4.10" height="58.50" fill="#00e06c"/>
<rect x="1009.20" y="482.22" width="4.10" height="197.78" fill="#ffb400"/>
<rect x="1009.20" y="471.07" width="4.10" height="11.14" fill="#ced4da"/>
<rect x="1009.20" y="426.50" width="4.10" height="44.57" fill="#00e06c"/>
<rect x="1015.11" y="476.64" width="4.10" height="203.36" fill="#ffb400"/>
<rect x="1015.11" y="468.29" width="4.10" height="8.36" fill="#ced4da"/>
<rect x="1015.11" y="443.22" width="4.10" height="25.07" fill="#00e06c"/>
<rect x="1021.01" y="437.64" width="4.10" height="242.36" fill="#ffb400"/>
<rect x="1021.01" y="434.86" width="4.10" height="2.79" fill="#ced4da"/>
<rect x="1021.01" y="426.50" width="4.10" height="8.36" fill="#00e06c"/>
<rect x="1026.92" y="429.29" width="4.10" height="250.71" fill="#ffb400"/>
<rect x="1026.92" y="409.79" width="4.10" height="19.50" fill="#ced4da"/>
<rect x="1026.92" y="376.36" width="4.10" height="33.43" fill="#00e06c"/>
<rect x="1032.82" y="457.14" width="4.10" height="222.86" fill="#ffb400"/>
<rect x="1032.82" y="440.43" width="4.10" height="16.71" fill="#ced4da"/>
<rect x="1032.82" y="437.64" width="4.10" height="2.79" fill="#00e06c"/>
<rect x="1038.72" y="459.93" width="4.10" height="220.07" fill="#ffb400"/>
<rect x="1038.72" y="448.79" width="4.10" height="11.14" fill="#ced4da"/>
<rect x="1038.72" y="426.50" width="4.10" height="22.29" fill="#00e06c"/>
<rect x="1044.63" y="351.29" width="4.10" height="328.71" fill="#ffb400"/>
<rect x="1044.63" y="337.36" width="4.10" height="13.93" fill="#ced4da"/>
<rect x="1044.63" y="290.00" width="4.10" height="47.36" fill="#00e06c"/>
<rect x="1050.53" y="532.36" width="4.10" height="147.64" fill="#ffb400"/>
<rect x="1050.53" y="529.57" width="4.10" height="2.79" fill="#ced4da"/>
<rect x="1050.53" y="504.50" width="4.10" height="25.07" fill="#00e06c"/>
<rect x="1056.44" y="501.72" width="4.10" height="178.28" fill="#ffb400"/>
<rect x="1056.44" y="487.79" width="4.10" height="13.93" fill="#ced4da"/>
<rect x="1056.44" y="473.86" width="4.10" height="13.93" fill="#00e06c"/>
<rect x="1062.34" y="546.29" width="4.10" height="133.71" fill="#ffb400"/>
<rect x="1062.34" y="535.14" width="4.10" height="11.14" fill="#ced4da"/>
<rect x="1062.34" y="507.29" width="4.10" height="27.86" fill="#00e06c"/>
<rect x="1068.24" y="423.72" width="4.10" height="256.28" fill="#ffb400"/>
<rect x="1068.24" y="409.79" width="4.10" height="13.93" fill="#ced4da"/>
<rect x="1068.24" y="401.43" width="4.10" height="8.36" fill="#00e06c"/>
<rect x="1074.15" y="510.07" width="4.10" height="169.93" fill="#ffb400"/>
<rect x="1074.15" y="504.50" width="4.10" height="5.57" fill="#ced4da"/>
<rect x="1074.15" y="498.93" width="4.10" height="5.57" fill="#00e06c"/>
<rect x="1080.05" y="540.72" width="4.10" height="139.28" fill="#ffb400"/>
<rect x="1080.05" y="526.79" width="4.10" height="13.93" fill="#ced4da"/>
<rect x="1080.05" y="504.50" width="4.10" height="22.29" fill="#00e06c"/>
<rect x="1085.96" y="490.57" width="4.10" height="189.43" fill="#ffb400"/>
<rect x="1085.96" y="485.00" width="4.10" height="5.57" fill="#ced4da"/>
<rect x="1085.96" y="482.22" width="4.10" height="2.79" fill="#00e06c"/>
<rect x="1091.86" y="504.50" width="4.10" height="175.50" fill="#ffb400"/>
<rect x="1091.86" y="493.36" width="4.10" height="11.14" fill="#ced4da"/>
<rect x="1091.86" y="468.29" width="4.10" height="25.07" fill="#00e06c"/>
<rect x="1097.76" y="471.07" width="4.10" height="208.93" fill="#ffb400"/>
<rect x="1097.76" y="440.43" width="4.10" height="30.64" fill="#ced4da"/>
<rect x="1103.67" y="563.00" width="4.10" height="117.00" fill="#ffb400"/>
<rect x="1103.67" y="557.43" width="4.10" height="5.57" fill="#ced4da"/>
<rect x="1103.67" y="551.86" width="4.10" height="5.57" fill="#00e06c"/>
<rect x="1109.57" y="498.93" width="4.10" height="181.07" fill="#ffb400"/>
<rect x="1109.57" y="482.22" width="4.10" height="16.71" fill="#ced4da"/>
<rect x="1109.57" y="446.00" width="4.10" height="36.21" fill="#00e06c"/>
<rect x="1115.48" y="501.72" width="4.10" height="178.28" fill="#ffb400"/>
<rect x="1115.48" y="490.57" width="4.10" height="11.14" fill="#ced4da"/>
<rect x="1115.48" y="485.00" width="4.10" height="5.57" fill="#00e06c"/>
<rect x="1121.38" y="448.79" width="4.10" height="231.21" fill="#ffb400"/>
<rect x="1121.38" y="443.22" width="4.10" height="5.57" fill="#ced4da"/>
<rect x="1121.38" y="415.36" width="4.10" height="27.86" fill="#00e06c"/>
<rect x="1127.28" y="420.93" width="4.10" height="259.07" fill="#ffb400"/>
<rect x="1127.28" y="395.86" width="4.10" height="25.07" fill="#ced4da"/>
<rect x="1127.28" y="354.07" width="4.10" height="41.79" fill="#00e06c"/>
<rect x="1133.19" y="473.86" width="4.10" height="206.14" fill="#ffb400"/>
<rect x="1133.19" y="468.29" width="4.10" height="5.57" fill="#ced4da"/>
<rect x="1133.19" y="437.64" width="4.10" height="30.64" fill="#00e06c"/>
<rect x="1139.09" y="471.07" width="4.10" height="208.93" fill="#ffb400"/>
<rect x="1139.09" y="462.72" width="4.10" height="8.36" fill="#ced4da"/>
<rect x="1139.09" y="457.14" width="4.10" height="5.57" fill="#00e06c"/>
<rect x="1145.00" y="409.79" width="4.10" height="270.21" fill="#ffb400"/>
<rect x="1145.00" y="407.00" width="4.10" height="2.79" fill="#ced4da"/>
<rect x="1145.00" y="390.29" width="4.10" height="16.71" fill="#00e06c"/>
<rect x="1150.90" y="473.86" width="4.10" height="206.14" fill="#ffb400"/>
<rect x="1150.90" y="459.93" width="4.10" height="13.93" fill="#ced4da"/>
<rect x="1150.90" y="448.79" width="4.10" height="11.14" fill="#00e06c"/>
<rect x="1156.80" y="485.00" width="4.10" height="195.00" fill="#ffb400"/>
<rect x="1156.80" y="479.43" width="4.10" height="5.57" fill="#ced4da"/>
<rect x="1156.80" y="468.29" width="4.10" height="11.14" fill="#00e06c"/>
<rect x="1162.71" y="331.79" width="4.10" height="348.21" fill="#ffb400"/>
<rect x="1162.71" y="315.07" width="4.10" height="16.71" fill="#ced4da"/>
<rect x="1162.71" y="267.72" width="4.10" height="47.36" fill="#00e06c"/>
<rect x="1168.61" y="432.07" width="4.10" height="247.93" fill="#ffb400"/>
<rect x="1168.61" y="426.50" width="4.10" height="5.57" fill="#ced4da"/>
<rect x="1168.61" y="401.43" width="4.10" height="25.07" fill="#00e06c"/>
<rect x="1174.52" y="457.14" width="4.10" height="222.86" fill="#ffb400"/>
<rect x="1174.52" y="409.79" width="4.10" height="47.36" fill="#ced4da"/>
<rect x="1174.52" y="370.79" width="4.10" height="39.00" fill="#00e06c"/>
<rect x="1180.42" y="535.14" width="4.10" height="144.86" fill="#ffb400"/>
<rect x="1180.42" y="521.22" width="4.10" height="13.93" fill="#ced4da"/>
<rect x="1180.42" y="501.72" width="4.10" height="19.50" fill="#00e06c"/>
<rect x="1186.32" y="479.43" width="4.10" height="200.57" fill="#ffb400"/>
<rect x="1186.32" y="476.64" width="4.10" height="2.79" fill="#ced4da"/>
<rect x="1186.32" y="440.43" width="4.10" height="36.21" fill="#00e06c"/>
<rect x="1192.23" y="515.64" width="4.10" height="164.36" fill="#ffb400"/>
<rect x="1192.23" y="473.86" width="4.10" height="41.79" fill="#ced4da"/>
<rect x="1192.23" y="459.93" width="4.10" height="13.93" fill="#00e06c"/>
<rect x="1198.13" y="468.29" width="4.10" height="211.71" fill="#ffb400"/>
<rect x="1198.13" y="454.36" width="4.10" height="13.93" fill="#ced4da"/>
<rect x="1198.13" y="443.22" width="4.10" height="11.14" fill="#00e06c"/>
<rect x="1204.04" y="482.22" width="4.10" height="197.78" fill="#ffb400"/>
<rect x="1204.04" y="454.36" width="4.10" height="27.86" fill="#ced4da"/>
<rect x="1204.04" y="440.43" width="4.10" height="13.93" fill="#00e06c"/>
<rect x="1209.94" y="393.07" width="4.10" height="286.93" fill="#ffb400"/>
<rect x="1209.94" y="370.79" width="4.10" height="22.29" fill="#ced4da"/>
<rect x="1209.94" y="329.00" width="4.10" height="41.79" fill="#00e06c"/>
<rect x="1215.84" y="468.29" width="4.10" height="211.71" fill="#ffb400"/>
<rect x="1215.84" y="462.72" width="4.10" height="5.57" fill="#ced4da"/>
<rect x="1215.84" y="446.00" width="4.10" height="16.71" fill="#00e06c"/>
<rect x="1221.75" y="485.00" width="4.10" height="195.00" fill="#ffb400"/>
<rect x="1221.75" y="482.22" width="4.10" height="2.79" fill="#ced4da"/>
<rect x="1221.75" y="426.50" width="4.10" height="55.71" fill="#00e06c"/>
<rect x="1227.65" y="496.14" width="4.10" height="183.86" fill="#ffb400"/>
<rect x="1227.65" y="476.64" width="4.10" height="19.50" fill="#ced4da"/>
<rect x="1227.65" y="462.72" width="4.10" height="13.93" fill="#00e06c"/>
<rect x="1233.56" y="482.22" width="4.10" height="197.78" fill="#ffb400"/>
<rect x="1233.56" y="473.86" width="4.10" height="8.36" fill="#ced4da"/>
<rect x="1233.56" y="465.50" width="4.10" height="8.36" fill="#00e06c"/>
<rect x="1239.46" y="490.57" width="4.10" height="189.43" fill="#ffb400"/>
<rect x="1239.46" y="479.43" width="4.10" height="11.14" fill="#ced4da"/>
<rect x="1239.46" y="457.14" width="4.10" height="22.29" fill="#00e06c"/>
<rect x="1245.36" y="504.50" width="4.10" height="175.50" fill="#ffb400"/>
<rect x="1245.36" y="496.14" width="4.10" height="8.36" fill="#ced4da"/>
<rect x="1245.36" y="468.29" width="4.10" height="27.86" fill="#00e06c"/>
<rect x="1251.27" y="426.50" width="4.10" height="253.50" fill="#ffb400"/>
<rect x="1251.27" y="418.14" width="4.10" height="8.36" fill="#00e06c"/>
<rect x="1257.17" y="471.07" width="4.10" height="208.93" fill="#ffb400"/>
<rect x="1257.17" y="462.72" width="4.10" height="8.36" fill="#ced4da"/>
<rect x="1257.17" y="446.00" width="4.10" height="16.71" fill="#00e06c"/>
<rect x="1263.08" y="507.29" width="4.10" height="172.71" fill="#ffb400"/>
<rect x="1263.08" y="504.50" width="4.10" height="2.79" fill="#ced4da"/>
<rect x="1263.08" y="501.72" width="4.10" height="2.79" fill="#00e06c"/>
<rect x="1268.98" y="493.36" width="4.10" height="186.64" fill="#ffb400"/>
<rect x="1268.98" y="490.57" width="4.10" height="2.79" fill="#ced4da"/>
<rect x="1268.98" y="457.14" width="4.10" height="33.43" fill="#00e06c"/>
<rect x="1274.88" y="512.86" width="4.10" height="167.14" fill="#ffb400"/>
<rect x="1274.88" y="510.07" width="4.10" height="2.79" fill="#ced4da"/>
<rect x="1274.88" y="507.29" width="4.10" height="2.79" fill="#00e06c"/>
<rect x="1280.79" y="473.86" width="4.10" height="206.14" fill="#ffb400"/>
<rect x="1280.79" y="465.50" width="4.10" height="8.36" fill="#ced4da"/>
<rect x="1280.79" y="462.72" width="4.10" height="2.79" fill="#00e06c"/>
<rect x="1286.69" y="493.36" width="4.10" height="186.64" fill="#ffb400"/>
<rect x="1286.69" y="482.22" width="4.10" height="11.14" fill="#ced4da"/>
<rect x="1286.69" y="448.79" width="4.10" height="33.43" fill="#00e06c"/>
<rect x="1292.60" y="462.72" width="4.10" height="217.28" fill="#ffb400"/>
<rect x="1292.60" y="457.14" width="4.10" height="5.57" fill="#ced4da"/>
<rect x="1292.60" y="451.57" width="4.10" height="5.57" fill="#00e06c"/>
<rect x="1298.50" y="510.07" width="4.10" height="169.93" fill="#ffb400"/>
<rect x="1298.50" y="507.29" width="4.10" height="2.79" fill="#ced4da"/>
<rect x="1298.50" y="490.57" width="4.10" height="16.71" fill="#00e06c"/>
<rect x="1304.40" y="485.00" width="4.10" height="195.00" fill="#ffb400"/>
<rect x="1304.40" y="462.72" width="4.10" height="22.29" fill="#ced4da"/>
<rect x="1304.40" y="440.43" width="4.10" height="22.29" fill="#00e06c"/>
<rect x="1310.31" y="418.14" width="4.10" height="261.86" fill="#ffb400"/>
<rect x="1310.31" y="401.43" width="4.10" height="16.71" fill="#ced4da"/>
<rect x="1310.31" y="351.29" width="4.10" height="50.14" fill="#00e06c"/>
<rect x="1316.21" y="537.93" width="4.10" height="142.07" fill="#ffb400"/>
<rect x="1316.21" y="526.79" width="4.10" height="11.14" fill="#00e06c"/>
<rect x="1322.12" y="512.86" width="4.10" height="167.14" fill="#ffb400"/>
<rect x="1322.12" y="504.50" width="4.10" height="8.36" fill="#ced4da"/>
<rect x="1322.12" y="462.72" width="4.10" height="41.79" fill="#00e06c"/>
<rect x="1328.02" y="540.72" width="4.10" height="139.28" fill="#ffb400"/>
<rect x="1328.02" y="535.14" width="4.10" height="5.57" fill="#ced4da"/>
<rect x="1328.02" y="515.64" width="4.10" height="19.50" fill="#00e06c"/>
<rect x="1333.92" y="524.00" width="4.10" height="156.00" fill="#ffb400"/>
<rect x="1333.92" y="515.64" width="4.10" height="8.36" fill="#ced4da"/>
<rect x="1333.92" y="510.07" width="4.10" height="5.57" fill="#00e06c"/>
<rect x="1339.83" y="524.00" width="4.10" height="156.00" fill="#ffb400"/>
<rect x="1339.83" y="521.22" width="4.10" height="2.79" fill="#ced4da"/>
<rect x="1339.83" y="501.72" width="4.10" height="19.50" fill="#00e06c"/>
<rect x="1345.73" y="507.29" width="4.10" height="172.71" fill="#ffb400"/>
<rect x="1345.73" y="498.93" width="4.10" height="8.36" fill="#ced4da"/>
<rect x="1345.73" y="468.29" width="4.10" height="30.64" fill="#00e06c"/>
<rect x="1351.64" y="457.14" width="4.10" height="222.86" fill="#ffb400"/>
<rect x="1351.64" y="454.36" width="4.10" height="2.79" fill="#ced4da"/>
<rect x="1351.64" y="446.00" width="4.10" height="8.36" fill="#00e06c"/>
<rect x="1357.54" y="451.57" width="4.10" height="228.43" fill="#ffb400"/>
<rect x="1357.54" y="448.79" width="4.10" height="2.79" fill="#ced4da"/>
<rect x="1357.54" y="434.86" width="4.10" height="13.93" fill="#00e06c"/>
<rect x="1363.44" y="471.07" width="4.10" height="208.93" fill="#ffb400"/>
<rect x="1363.44" y="443.22" width="4.10" height="27.86" fill="#ced4da"/>
<rect x="1363.44" y="429.29" width="4.10" height="13.93" fill="#00e06c"/>
<rect x="1369.35" y="451.57" width="4.10" height="228.43" fill="#ffb400"/>
<rect x="1369.35" y="407.00" width="4.10" height="44.57" fill="#ced4da"/>
<rect x="1369.35" y="373.57" width="4.10" height="33.43" fill="#00e06c"/>
<rect x="1375.25" y="468.29" width="4.10" height="211.71" fill="#ffb400"/>
<rect x="1375.25" y="457.14" width="4.10" height="11.14" fill="#ced4da"/>
<rect x="1375.25" y="434.86" width="4.10" height="22.29" fill="#00e06c"/>
<rect x="1381.16" y="526.79" width="4.10" height="153.21" fill="#ffb400"/>
<rect x="1381.16" y="524.00" width="4.10" height="2.79" fill="#ced4da"/>
<rect x="1381.16" y="498.93" width="4.10" height="25.07" fill="#00e06c"/>
<rect x="1387.06" y="549.07" width="4.10" height="130.93" fill="#ffb400"/>
<rect x="1387.06" y="546.29" width="4.10" height="2.79" fill="#ced4da"/>
<rect x="1387.06" y="535.14" width="4.10" height="11.14" fill="#00e06c"/>
<rect x="1392.96" y="549.07" width="4.10" height="130.93" fill="#ffb400"/>
<rect x="1392.96" y="537.93" width="4.10" height="11.14" fill="#00e06c"/>
<rect x="1398.87" y="551.86" width="4.10" height="128.14" fill="#ffb400"/>
<rect x="1398.87" y="549.07" width="4.10" height="2.79" fill="#ced4da"/>
<rect x="1398.87" y="535.14" width="4.10" height="13.93" fill="#00e06c"/>
<rect x="1404.77" y="571.36" width="4.10" height="108.64" fill="#ffb400"/>
<rect x="1404.77" y="563.00" width="4.10" height="8.36" fill="#ced4da"/>
<rect x="1404.77" y="529.57" width="4.10" height="33.43" fill="#00e06c"/>
<rect x="1410.68" y="524.00" width="4.10" height="156.00" fill="#ffb400"/>
<rect x="1410.68" y="518.43" width="4.10" height="5.57" fill="#ced4da"/>
<rect x="1410.68" y="496.14" width="4.10" height="22.29" fill="#00e06c"/>
<rect x="1416.58" y="485.00" width="4.10" height="195.00" fill="#ffb400"/>
<rect x="1416.58" y="482.22" width="4.10" height="2.79" fill="#ced4da"/>
<rect x="1416.58" y="457.14" width="4.10" height="25.07" fill="#00e06c"/>
<rect x="1422.48" y="546.29" width="4.10" height="133.71" fill="#ffb400"/>
<rect x="1422.48" y="537.93" width="4.10" height="8.36" fill="#ced4da"/>
<rect x="1422.48" y="515.64" width="4.10" height="22.29" fill="#00e06c"/>
<rect x="1428.39" y="507.29" width="4.10" height="172.71" fill="#ffb400"/>
<rect x="1428.39" y="496.14" width="4.10" height="11.14" fill="#ced4da"/>
<rect x="1428.39" y="468.29" width="4.10" height="27.86" fill="#00e06c"/>
<rect x="1434.29" y="493.36" width="4.10" height="186.64" fill="#ffb400"/>
<rect x="1434.29" y="490.57" width="4.10" height="2.79" fill="#ced4da"/>
<rect x="1434.29" y="476.64" width="4.10" height="13.93" fill="#00e06c"/>
<rect x="1440.20" y="543.50" width="4.10" height="136.50" fill="#ffb400"/>
<rect x="1440.20" y="498.93" width="4.10" height="44.57" fill="#ced4da"/>
<rect x="1440.20" y="476.64" width="4.10" height="22.29" fill="#00e06c"/>
<rect x="1446.10" y="560.21" width="4.10" height="119.79" fill="#ffb400"/>
<rect x="1446.10" y="518.43" width="4.10" height="41.79" fill="#ced4da"/>
<rect x="1446.10" y="507.29" width="4.10" height="11.14" fill="#00e06c"/>
<rect x="1452.00" y="590.86" width="4.10" height="89.14" fill="#ffb400"/>
<rect x="1452.00" y="563.00" width="4.10" height="27.86" fill="#ced4da"/>
<rect x="1452.00" y="554.64" width="4.10" height="8.36" fill="#00e06c"/>
<rect x="1457.91" y="585.29" width="4.10" height="94.71" fill="#ffb400"/>
<rect x="1457.91" y="576.93" width="4.10" height="8.36" fill="#ced4da"/>
<rect x="1457.91" y="532.36" width="4.10" height="44.57" fill="#00e06c"/>
<rect x="1463.81" y="571.36" width="4.10" height="108.64" fill="#ffb400"/>
<rect x="1463.81" y="551.86" width="4.10" height="19.50" fill="#00e06c"/>
<rect x="1469.72" y="602.00" width="4.10" height="78.00" fill="#ffb400"/>
<rect x="1469.72" y="582.50" width="4.10" height="19.50" fill="#00e06c"/>
<rect x="1475.62" y="596.43" width="4.10" height="83.57" fill="#ffb400"/>
<rect x="1475.62" y="585.29" width="4.10" height="11.14" fill="#00e06c"/>
<rect x="1481.52" y="448.79" width="4.10" height="231.21" fill="#ffb400"/>
<rect x="1481.52" y="446.00" width="4.10" height="2.79" fill="#ced4da"/>
<rect x="1481.52" y="426.50" width="4.10" height="19.50" fill="#00e06c"/>
<rect x="1487.43" y="582.50" width="4.10" height="97.50" fill="#ffb400"/>
<rect x="1487.43" y="576.93" width="4.10" height="5.57" fill="#ced4da"/>
<rect x="1487.43" y="560.21" width="4.10" height="16.71" fill="#00e06c"/>
</g>
<g stroke="#777" stroke-width="1">
<line x1="109.6" x2="116" y1="680.00" y2="680.00"/>
<line x1="109.6" x2="116" y1="624.29" y2="624.29"/>
<line x1="109.6" x2="116" y1="568.57" y2="568.57"/>
<line x1="109.6" x2="116" y1="512.86" y2="512.86"/>
<line x1="109.6" x2="116" y1="457.14" y2="457.14"/>
<line x1="109.6" x2="116" y1="401.43" y2="401.43"/>
<line x1="109.6" x2="116" y1="345.72" y2="345.72"/>
<line x1="109.6" x2="116" y1="290.00" y2="290.00"/>
</g>
<g font-size="13.8" fill="#333" text-anchor="end">
<text x="103.5" y="679.20" dominant-baseline="central">0</text>
<text x="103.5" y="623.49" dominant-baseline="central">20</text>
<text x="103.5" y="567.77" dominant-baseline="central">40</text>
<text x="103.5" y="512.06" dominant-baseline="central">60</text>
<text x="103.5" y="456.34" dominant-baseline="central">80</text>
<text x="103.5" y="400.63" dominant-baseline="central">100</text>
<text x="103.5" y="344.92" dominant-baseline="central">120</text>
<text x="103.5" y="289.20" dominant-baseline="central">140</text>
</g>
<g stroke="#777" stroke-width="1">
<line x1="131.56" x2="131.56" y1="680" y2="686"/>
<line x1="172.89" x2="172.89" y1="680" y2="686"/>
<line x1="214.21" x2="214.21" y1="680" y2="686"/>
<line x1="255.54" x2="255.54" y1="680" y2="686"/>
<line x1="296.87" x2="296.87" y1="680" y2="686"/>
<line x1="338.20" x2="338.20" y1="680" y2="686"/>
<line x1="379.53" x2="379.53" y1="680" y2="686"/>
<line x1="420.85" x2="420.85" y1="680" y2="686"/>
<line x1="462.18" x2="462.18" y1="680" y2="686"/>
<line x1="503.51" x2="503.51" y1="680" y2="686"/>
<line x1="544.84" x2="544.84" y1="680" y2="686"/>
<line x1="586.17" x2="586.17" y1="680" y2="686"/>
<line x1="627.49" x2="627.49" y1="680" y2="686"/>
<line x1="668.82" x2="668.82" y1="680" y2="686"/>
<line x1="710.15" x2="710.15" y1="680" y2="686"/>
<line x1="751.48" x2="751.48" y1="680" y2="686"/>
<line x1="792.81" x2="792.81" y1="680" y2="686"/>
<line x1="834.13" x2="834.13" y1="680" y2="686"/>
<line x1="875.46" x2="875.46" y1="680" y2="686"/>
<line x1="916.79" x2="916.79" y1="680" y2="686"/>
<line x1="958.12" x2="958.12" y1="680" y2="686"/>
<line x1="999.45" x2="999.45" y1="680" y2="686"/>
<line x1="1040.77" x2="1040.77" y1="680" y2="686"/>
<line x1="1082.10" x2="1082.10" y1="680" y2="686"/>
<line x1="1123.43" x2="1123.43" y1="680" y2="686"/>
<line x1="1164.76" x2="1164.76" y1="680" y2="686"/>
<line x1="1206.09" x2="1206.09" y1="680" y2="686"/>
<line x1="1247.41" x2="1247.41" y1="680" y2="686"/>
<line x1="1288.74" x2="1288.74" y1="680" y2="686"/>
<line x1="1330.07" x2="1330.07" y1="680" y2="686"/>
<line x1="1371.40" x2="1371.40" y1="680" y2="686"/>
<line x1="1412.73" x2="1412.73" y1="680" y2="686"/>
<line x1="1454.05" x2="1454.05" y1="680" y2="686"/>
</g>
<g font-size="13.6" fill="#333">
<text transform="translate(132.36 692) rotate(45)" dominant-baseline="central">2022-07-03</text>
<text transform="translate(173.69 692) rotate(45)" dominant-baseline="central">2022-07-10</text>
<text transform="translate(215.01 692) rotate(45)" dominant-baseline="central">2022-07-17</text>
<text transform="translate(256.34 692) rotate(45)" dominant-baseline="central">2022-07-24</text>
<text transform="translate(297.67 692) rotate(45)" dominant-baseline="central">2022-07-31</text>
<text transform="translate(339.00 692) rotate(45)" dominant-baseline="central">2022-08-07</text>
<text transform="translate(380.33 692) rotate(45)" dominant-baseline="central">2022-08-14</text>
<text transform="translate(421.65 692) rotate(45)" dominant-baseline="central">2022-08-21</text>
<text transform="translate(462.98 692) rotate(45)" dominant-baseline="central">2022-08-28</text>
<text transform="translate(504.31 692) rotate(45)" dominant-baseline="central">2022-09-04</text>
<text transform="translate(545.64 692) rotate(45)" dominant-baseline="central">2022-09-11</text>
<text transform="translate(586.97 692) rotate(45)" dominant-baseline="central">2022-09-18</text>
<text transform="translate(628.29 692) rotate(45)" dominant-baseline="central">2022-09-25</text>
<text transform="translate(669.62 692) rotate(45)" dominant-baseline="central">2022-10-02</text>
<text transform="translate(710.95 692) rotate(45)" dominant-baseline="central">2022-10-09</text>
<text transform="translate(752.28 692) rotate(45)" dominant-baseline="central">2022-10-16</text>
<text transform="translate(793.61 692) rotate(45)" dominant-baseline="central">2022-10-23</text>
<text transform="translate(834.93 692) rotate(45)" dominant-baseline="central">2022-10-30</text>
<text transform="translate(876.26 692) rotate(45)" dominant-baseline="central">2022-11-06</text>
<text transform="translate(917.59 692) rotate(45)" dominant-baseline="central">2022-11-13</text>
<text transform="translate(958.92 692) rotate(45)" dominant-baseline="central">2022-11-20</text>
<text transform="translate(1000.25 692) rotate(45)" dominant-baseline="central">2022-11-27</text>
<text transform="translate(1041.57 692) rotate(45)" dominant-baseline="central">2022-12-04</text>
<text transform="translate(1082.90 692) rotate(45)" dominant-baseline="central">2022-12-11</text>
<text transform="translate(1124.23 692) rotate(45)" dominant-baseline="central">2022-12-18</text>
<text transform="translate(1165.56 692) rotate(45)" dominant-baseline="central">2022-12-25</text>
<text transform="translate(1206.89 692) rotate(45)" dominant-baseline="central">2023-01-01</text>
<text transform="translate(1248.21 692) rotate(45)" dominant-baseline="central">2023-01-08</text>
<text transform="translate(1289.54 692) rotate(45)" dominant-baseline="central">2023-01-15</text>
<text transform="translate(1330.87 692) rotate(45)" dominant-baseline="central">2023-01-22</text>
<text transform="translate(1372.20 692) rotate(45)" dominant-baseline="central">2023-01-29</text>
<text transform="translate(1413.53 692) rotate(45)" dominant-baseline="central">2023-02-05</text>
<text transform="translate(1454.85 692) rotate(45)" dominant-baseline="central">2023-02-12</text>
</g>
<text x="744.3" y="773" font-size="14.8" fill="#333" textLength="121.4" lengthAdjust="spacingAndGlyphs">Measurement Day</text>
</svg></body></html>
